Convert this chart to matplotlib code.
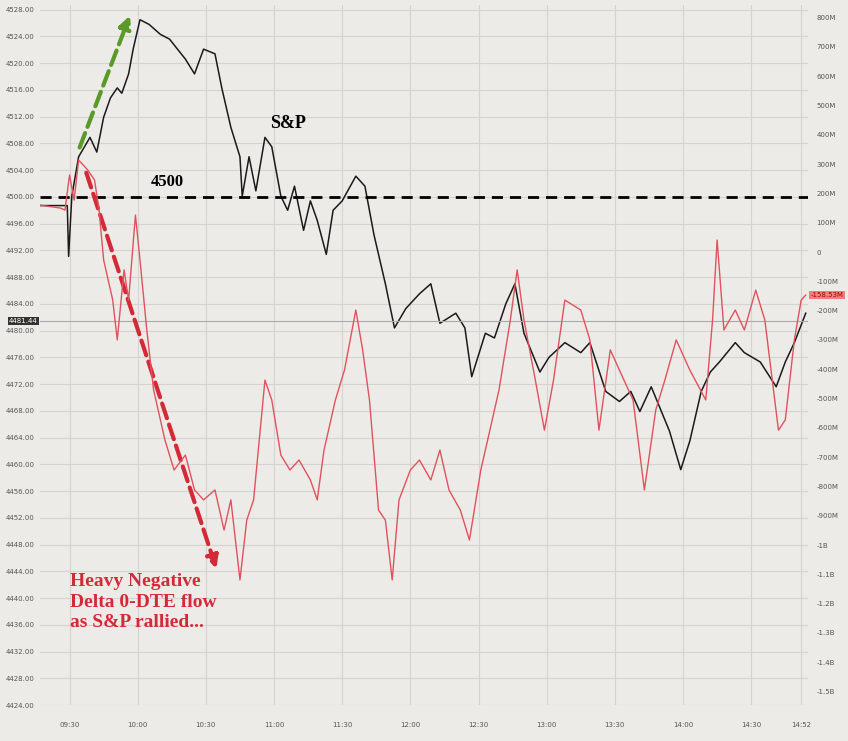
import matplotlib
matplotlib.use("Agg")
import matplotlib.pyplot as plt

# minutes after 09:30
spx_t = [-13,-1,-0.4,1,4,9,12,15,18,21,23,26,28,31,35,40,44,51,55,59,64,67,71,75,76,79,82,86,89,93,96,99,103,106,109,113,116,120,126,130,134,139,143,148,154,159,163,170,174,177,183,187,192,196,200,207,211,218,225,229,236,242,247,251,256,264,269,273,278,282,286,293,297,304,311,315,319,324]
spx_v = [4498.7,4498.7,4491.1,4500.1,4506.0,4508.9,4506.7,4511.9,4514.8,4516.3,4515.5,4518.4,4522.1,4526.5,4525.8,4524.3,4523.6,4520.6,4518.4,4522.1,4521.4,4516.3,4510.4,4506.0,4500.1,4506.0,4500.9,4508.9,4507.5,4500.1,4498.0,4501.6,4495.0,4499.4,4496.5,4491.4,4498.0,4499.4,4503.1,4501.6,4494.3,4487.0,4480.4,4483.3,4485.5,4487.0,4481.1,4482.6,4480.4,4473.1,4479.6,4478.9,4484.0,4487.0,4479.6,4473.8,4476.0,4478.2,4476.7,4478.2,4470.9,4469.4,4470.9,4467.9,4471.6,4465.0,4459.2,4463.5,4470.9,4473.8,4475.3,4478.2,4476.7,4475.3,4471.6,4475.3,4478.2,4482.6]
flow_t = [-13,-4,-2,0,2,4,8,11,13,15,19,21,24,26,29,31,34,37,42,46,51,55,59,64,68,71,75,78,81,86,89,93,97,101,106,109,112,117,121,126,129,132,136,139,142,145,150,154,159,163,167,172,176,181,185,189,194,197,200,205,209,213,218,225,229,233,238,242,248,253,258,262,267,273,280,283,285,288,293,297,302,306,312,315,319,322,324]
flow_v = [160,150,143,263,177,314,280,246,143,-27,-164,-300,-61,-164,126,-27,-266,-471,-642,-744,-693,-812,-846,-812,-949,-846,-1119,-915,-846,-437,-505,-693,-744,-710,-778,-846,-676,-505,-403,-198,-334,-505,-881,-915,-1119,-846,-744,-710,-778,-676,-812,-881,-983,-744,-608,-471,-232,-61,-232,-437,-608,-437,-164,-198,-300,-608,-334,-403,-505,-812,-539,-437,-300,-403,-505,-232,41,-266,-198,-266,-130,-232,-608,-573,-300,-164,-147]
xtick_pos = [0,30,60,90,120,150,180,210,240,270,300,322]
xtick_lab = ["09:30","10:00","10:30","11:00","11:30","12:00","12:30","13:00","13:30","14:00","14:30","14:52"]
ltick = list(range(4424, 4529, 4))
rtick = [800,700,600,500,400,300,200,100,0,-100,-200,-300,-400,-500,-600,-700,-800,-900,-1000,-1100,-1200,-1300,-1400,-1500]
def rlab(v):
    if v == 0: return "0"
    if abs(v) >= 1000: return f"{v/1000:.1f}B".replace("-1.0B","-1B")
    return f"{v}M"

bg = "#edebe7"
fig = plt.figure(figsize=(8.48, 7.41), dpi=100, facecolor=bg)
ax = fig.add_axes([40/848, 36/741, 768/848, 700/741], facecolor=bg)
ax.set_xlim(-13, 325)
ax.set_ylim(4426.2, 4528.7)
ax2 = ax.twinx()
ax2.set_ylim(-1546, 843)
for a in (ax, ax2):
    for s in a.spines.values(): s.set_visible(False)
ax.set_xticks(xtick_pos); ax.set_xticklabels(xtick_lab, fontsize=5, color="#555")
ax.set_yticks(ltick); ax.set_yticklabels([f"{v}.00" for v in ltick], fontsize=5, color="#555")
ax2.set_yticks(rtick); ax2.set_yticklabels([rlab(v) for v in rtick], fontsize=5, color="#555")
ax.tick_params(axis="y", length=0, pad=4); ax.tick_params(axis="x", length=0, pad=12)
ax2.tick_params(length=0, pad=6)
ax.grid(True, color="#d6d4d0", lw=0.8)
ax2.plot(flow_t, flow_v, color="#e0525e", lw=1.0)
ax.plot(spx_t, spx_v, color="#1a1a1a", lw=1.1)
ax.axhline(4500, color="black", ls=(0, (4, 2.5)), lw=2)
ax.axhline(4481.44, color="#aaa", lw=0.8)
ax.text(-14, 4481.44, "4481.44", fontsize=5, color="white", ha="right", va="center",
        bbox=dict(fc="#333", ec="none", pad=1))
ax2.text(326, flow_v[-1], "-158.53M", fontsize=5, color="#a00", ha="left", va="center",
         bbox=dict(fc="#f08080", ec="none", pad=1))
ax.annotate("", xy=(27, 4527.5), xytext=(4, 4507), arrowprops=dict(arrowstyle="-|>", color="#5a9a28", lw=3, ls="--", mutation_scale=18))
ax.annotate("", xy=(65, 4444), xytext=(7, 4504), arrowprops=dict(arrowstyle="-|>", color="#d42a38", lw=3, ls="--", mutation_scale=18))
ax.text(96, 4511, "S&P", fontsize=13, fontweight="bold", family="Liberation Serif", color="black", ha="center", va="center")
ax.text(43, 4502.2, "4500", fontsize=12, fontweight="bold", family="Liberation Serif", color="black", ha="center", va="center")
ax.text(0, 4443.8, "Heavy Negative\nDelta 0-DTE flow\nas S&P rallied...", fontsize=14, fontweight="bold", family="Liberation Serif",
        color="#d42a38", ha="left", va="top", linespacing=1.3)
fig.savefig("out.png", dpi=100, facecolor=bg)
